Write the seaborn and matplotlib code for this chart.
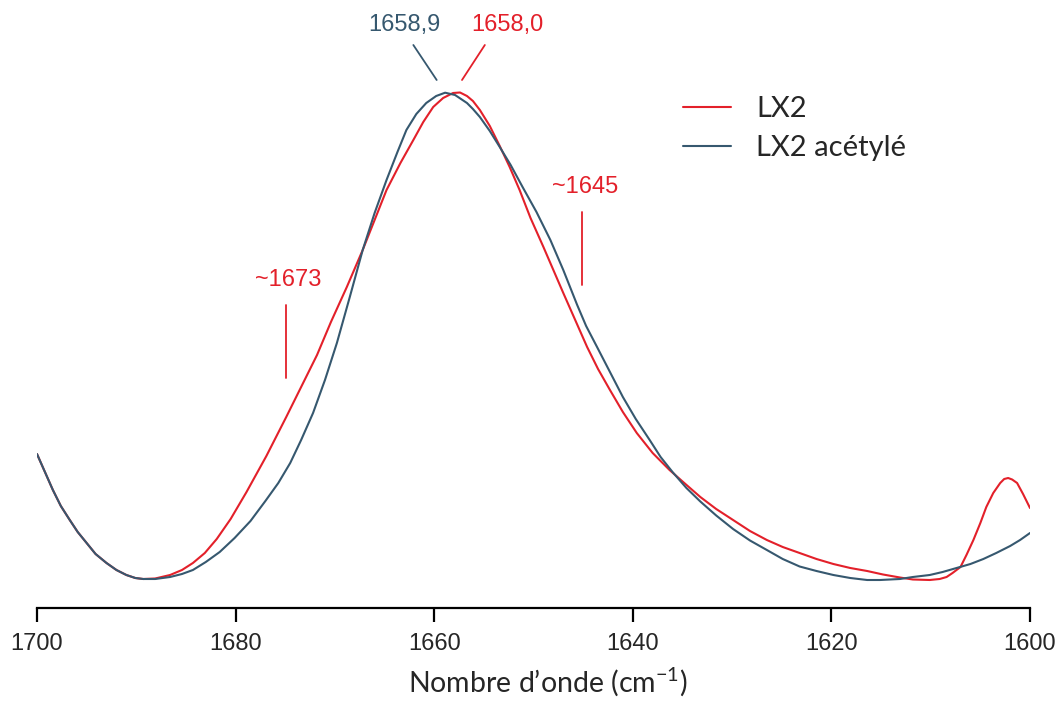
import matplotlib
matplotlib.use("Agg")
import matplotlib.pyplot as plt
import seaborn as sns
import pandas as pd

# Amide I band, wavenumber (cm-1) and absorbance (arbitrary units)
lx2_wn = [1700.0, 1699.2, 1698.4, 1697.6, 1696.7, 1695.9, 1695.0, 1694.1, 1693.0, 1692.0,
          1691.0, 1690.1, 1689.3, 1688.1, 1686.6, 1685.4, 1684.3, 1683.1, 1681.9, 1680.5,
          1678.9, 1676.9, 1674.9, 1673.4, 1671.8, 1670.4, 1668.8, 1667.2, 1666.0, 1664.8,
          1663.4, 1662.1, 1661.1, 1660.1, 1659.1, 1658.1, 1657.4, 1656.7, 1656.1, 1655.4,
          1654.4, 1653.4, 1652.4, 1651.4, 1650.3, 1649.0, 1648.0, 1647.0, 1645.8, 1644.6,
          1643.5, 1642.3, 1641.0, 1639.6, 1638.0, 1636.3, 1634.7, 1633.2, 1631.6, 1629.9,
          1628.2, 1626.5, 1624.9, 1623.2, 1621.5, 1619.8, 1618.1, 1616.4, 1614.8, 1613.1,
          1611.8, 1610.1, 1609.1, 1608.4, 1607.8, 1607.0, 1606.4, 1605.7, 1605.0, 1604.4,
          1603.7, 1603.0, 1602.6, 1602.2, 1601.8, 1601.3, 1600.7, 1600.0]
lx2_abs = [156, 138, 120, 104, 90, 78, 67, 56, 47, 40,
           35, 32, 31, 31.5, 35, 40, 47, 57, 71, 91,
           118, 154, 193, 223, 255, 288, 323, 360, 390, 420,
           447, 470, 488, 503, 512, 517, 517.5, 514, 509, 500,
           484, 464, 443, 420, 392, 363, 340, 317, 290, 263,
           241, 220, 198, 177, 157, 140, 126, 113, 101, 90,
           79, 70, 63, 57, 51, 46, 42, 39, 35.5, 32.5,
           30.5, 30, 31, 33, 37, 43, 55, 70, 87, 103,
           117, 127, 131, 132, 130.5, 127, 116, 102]

acet_wn = [1700.0, 1699.2, 1698.4, 1697.6, 1696.7, 1695.9, 1695.0, 1694.1, 1693.0, 1692.0,
           1691.0, 1690.1, 1689.3, 1688.1, 1686.6, 1685.4, 1684.3, 1683.0, 1681.6, 1680.1,
           1678.5, 1677.0, 1675.7, 1674.5, 1673.4, 1672.2, 1671.0, 1669.8, 1668.5, 1667.2,
           1666.0, 1664.8, 1663.7, 1662.8, 1661.8, 1660.8, 1659.8, 1658.9, 1657.9, 1656.7,
           1656.1, 1655.4, 1654.4, 1653.4, 1652.3, 1651.1, 1649.7, 1648.3, 1647.0, 1645.6,
           1644.7, 1643.6, 1642.3, 1641.0, 1639.7, 1638.3, 1637.2, 1636.0, 1634.6, 1633.2,
           1631.6, 1629.9, 1628.2, 1626.5, 1624.9, 1623.2, 1621.5, 1619.8, 1618.1, 1616.4,
           1615.1, 1614.1, 1613.1, 1611.8, 1610.1, 1608.8, 1607.4, 1606.0, 1604.7, 1603.4,
           1602.0, 1601.0, 1600.0]
acet_abs = [156, 138, 120, 104, 90, 78, 67, 56, 47, 40,
            35, 32, 31, 31, 33, 36, 40, 48, 58, 72,
            89, 109, 127, 147, 170, 197, 230, 267, 313, 360,
            397, 430, 458, 480, 496, 507, 514, 517.3, 515, 507,
            501, 493, 479, 463, 445, 423, 398, 370, 340, 305,
            284, 263, 238, 213, 191, 170, 153, 138, 122, 108.5,
            94.5, 81, 69.5, 60, 51, 43.5, 39, 35, 32, 30,
            30, 30.5, 31, 33, 35, 38, 42, 46, 51, 57,
            64, 70, 77]

series_names = ["LX2", "LX2 acétylé"]
tick_values = [1700, 1680, 1660, 1640, 1620, 1600]

RED = "#E3202A"
BLUE = "#36586F"

df = pd.concat([
    pd.DataFrame({"wn": lx2_wn, "A": lx2_abs, "sample": series_names[0]}),
    pd.DataFrame({"wn": acet_wn, "A": acet_abs, "sample": series_names[1]}),
])

sns.set_style("white")
plt.rcParams["font.family"] = ["Liberation Sans", "DejaVu Sans"]
plt.rcParams["mathtext.fontset"] = "custom"
plt.rcParams["mathtext.rm"] = "Lato"
plt.rcParams["mathtext.it"] = "Lato"

fig = plt.figure(figsize=(10.6, 7.02), dpi=100)
ax = fig.add_axes([0.0349, 0.1339, 0.9368, 0.8661])

sns.lineplot(data=df, x="wn", y="A", hue="sample", palette=[RED, BLUE],
             hue_order=series_names, sort=False, estimator=None,
             linewidth=1.5, ax=ax)

ax.set_xlim(1700, 1600)
ax.set_ylim(2, 610)

for s in ["top", "right", "left"]:
    ax.spines[s].set_visible(False)
ax.spines["bottom"].set_linewidth(1.6)
ax.spines["bottom"].set_color("black")
ax.set_yticks([])
ax.set_ylabel("")
ax.set_xticks(tick_values)
ax.set_xticklabels([str(t) for t in tick_values], fontsize=17)
ax.tick_params(axis="x", direction="out", length=10, width=1.6, color="black",
               pad=8, bottom=True)
ax.set_xlabel("Nombre d’onde (cm$^{-1}$)", fontfamily="Lato", fontsize=20.5)
ax.xaxis.set_label_coords(0.514, -0.094)

# Peak maxima labels
ax.text(1663.0, 585, "1658,9", color=BLUE, fontsize=17, ha="center", va="center")
ax.text(1652.6, 585, "1658,0", color=RED, fontsize=17, ha="center", va="center")
ax.plot([1662.1, 1659.75], [565, 530], color=BLUE, lw=1.3)
ax.plot([1654.9, 1657.2], [565, 530], color=RED, lw=1.3)

# Shoulder markers
ax.text(1674.7, 330, "~1673", color=RED, fontsize=17, ha="center", va="center")
ax.plot([1674.95, 1674.95], [305, 232], color=RED, lw=1.3)
ax.text(1644.8, 423, "~1645", color=RED, fontsize=17, ha="center", va="center")
ax.plot([1645.15, 1645.15], [398, 325], color=RED, lw=1.3)

handles, labels = ax.get_legend_handles_labels()
ax.legend(handles, series_names, loc="center left", bbox_to_anchor=(0.6506, 0.789),
          frameon=False, borderpad=0, borderaxespad=0, handlelength=1.65,
          handletextpad=0.85, labelspacing=0.45,
          prop={"family": "Lato", "size": 21})

fig.savefig("out.png", dpi=100)
